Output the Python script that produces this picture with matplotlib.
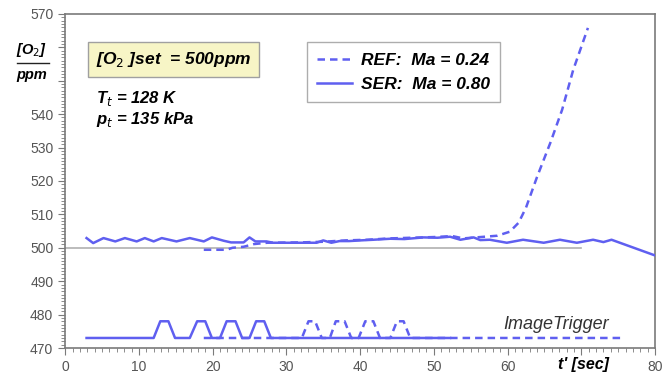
import matplotlib
matplotlib.use("Agg")
import matplotlib.pyplot as plt
from matplotlib.lines import Line2D
from matplotlib.ticker import MultipleLocator

plt.rcParams["font.family"] = ["Liberation Sans", "DejaVu Sans"]

# SER: Ma = 0.80 (solid)
ser_t = [2.9, 3.8, 5.2, 6.8, 8.1, 9.7, 10.8, 12.0, 13.1, 15.1, 16.9, 18.8, 19.9,
         21.5, 22.5, 24.2, 25.0, 25.8, 27.3, 28.2, 30, 32, 34.1, 35.0, 36.1, 37.2,
         38.5, 40, 41.8, 44.1, 46, 48.6, 50.5, 52.2, 53.6, 55.4, 56.3, 57.6, 59.9,
         62.1, 64.9, 67.1, 69.4, 71.6, 73.0, 74.1, 80]
ser_v = [502.9, 501.4, 502.9, 501.9, 502.9, 501.9, 502.9, 501.9, 502.9, 501.9,
         502.9, 501.9, 503.1, 502.1, 501.6, 501.6, 503.1, 501.9, 501.9, 501.5,
         501.5, 501.5, 501.5, 502.2, 501.5, 502.0, 502.0, 502.2, 502.4, 502.7,
         502.6, 503.1, 503.0, 503.3, 502.4, 503.1, 502.3, 502.4, 501.5, 502.4,
         501.5, 502.4, 501.5, 502.4, 501.7, 502.4, 497.7]

# REF: Ma = 0.24 (dashed)
ref_t = [18.8, 21.9, 22.7, 24.2, 25.6, 27.4, 31.9, 35, 38, 41, 44, 47, 50, 52.5,
         54, 56.3, 58.6, 60.3, 61.5, 62.5, 64.0, 65.8, 67.4, 68.9, 70.9]
ref_v = [499.4, 499.4, 500.0, 500.3, 501.1, 501.5, 501.6, 501.8, 502.2, 502.4,
         502.8, 503.0, 503.2, 503.5, 502.8, 503.2, 503.6, 504.8, 507.5, 512.0,
         521.2, 531.4, 541.3, 553.2, 565.8]

# image trigger signals
trig_ser_t = [2.9, 12.0, 12.9, 14.0, 14.9, 16.9, 17.9, 19.0, 19.9, 21.0, 21.9,
              23.1, 24.0, 25.0, 25.9, 27.0, 27.9, 52.2]
trig_ser_v = [473, 473, 478, 478, 473, 473, 478, 478, 473, 473, 478, 478, 473,
              473, 478, 478, 473, 473]
trig_ref_t = [18.8, 32.1, 33.0, 33.9, 34.8, 35.9, 36.7, 37.9, 38.8, 39.8, 40.7,
              41.8, 42.7, 44.1, 45.0, 45.9, 46.8, 75.9]
trig_ref_v = [473, 473, 478, 478, 473, 473, 478, 478, 473, 473, 478, 478, 473,
              473, 478, 478, 473, 473]

set_t = [0, 70]
set_v = [500, 500]

yticks = [470, 480, 490, 500, 510, 520, 530, 540, 550, 560, 570]
ytick_labels = ["470", "480", "490", "500", "510", "520", "530", "540", "", "", "570"]
xticks = [0, 10, 20, 30, 40, 50, 60, 70, 80]
xtick_labels = ["0", "10", "20", "30", "40", "50", "60", "", "80"]

blue = "#5f5ff0"
gray = "#7a7a7a"
lw = 1.8

fig = plt.figure(figsize=(6.65, 3.75), dpi=100)
ax = fig.add_axes([0.098, 0.072, 0.887, 0.891])

ax.plot(set_t, set_v, color="#b0b0b0", lw=1.2, zorder=1)
ax.plot(ser_t, ser_v, color=blue, lw=lw, zorder=3)
ax.plot(ref_t, ref_v, color=blue, lw=lw, dashes=(3, 2), zorder=2)
ax.plot(trig_ser_t, trig_ser_v, color=blue, lw=lw, zorder=3)
ax.plot(trig_ref_t, trig_ref_v, color=blue, lw=lw, dashes=(3, 2), zorder=2)

ax.set_xlim(0, 80)
ax.set_ylim(470, 570)
ax.set_xticks(xticks)
ax.set_xticklabels(xtick_labels)
ax.set_yticks(yticks)
ax.set_yticklabels(ytick_labels)
ax.xaxis.set_minor_locator(MultipleLocator(1))
ax.yaxis.set_minor_locator(MultipleLocator(1))
ax.tick_params(which="both", direction="out", color=gray, labelcolor="#555555",
               labelsize=10, top=False, right=False)
ax.tick_params(which="major", length=5)
ax.tick_params(which="minor", length=3)
for s in ax.spines.values():
    s.set_color(gray)
    s.set_linewidth(1.2)

# legend
handles = [Line2D([0], [0], color=blue, lw=lw, dashes=(3, 2)),
           Line2D([0], [0], color=blue, lw=lw)]
leg = ax.legend(handles, ["REF:  Ma = 0.24", "SER:  Ma = 0.80"],
                loc="upper left", bbox_to_anchor=(0.41, 0.915),
                prop={"weight": "bold", "style": "italic", "size": 12.5},
                frameon=True, fancybox=False, borderpad=0.6, handlelength=2.0,
                handletextpad=0.5, labelspacing=0.5, borderaxespad=0)
leg.get_frame().set_edgecolor("#999999")
leg.get_frame().set_linewidth(1.0)

# annotation texts
ax.text(0.052, 0.863, r"[O$_2$ ]set  = 500ppm", transform=ax.transAxes,
        fontsize=12.5, fontweight="bold", fontstyle="italic", va="center",
        bbox=dict(boxstyle="square,pad=0.45", fc="#f7f5c6", ec="#a0a0a0", lw=1))
ax.text(0.052, 0.748, r"T$_t$ = 128 K", transform=ax.transAxes, fontsize=12,
        fontweight="bold", fontstyle="italic", va="center")
ax.text(0.052, 0.683, r"p$_t$ = 135 kPa", transform=ax.transAxes, fontsize=12,
        fontweight="bold", fontstyle="italic", va="center")
ax.text(66.6, 477, "ImageTrigger", fontsize=13, fontstyle="italic",
        color="#333333", ha="center", va="center")

fig.text(583 / 665, 1 - 365 / 375, "t' [sec]", fontsize=11.5, fontweight="bold",
         fontstyle="italic", ha="center", va="center")
fig.text(32 / 665, 1 - 50 / 375, r"[O$_2$]", fontsize=10.5, fontweight="bold",
         fontstyle="italic", ha="center", va="center")
fig.add_artist(Line2D([17 / 665, 49 / 665], [1 - 63 / 375, 1 - 63 / 375],
                      color="#222222", lw=1.0))
fig.text(32 / 665, 1 - 75 / 375, "ppm", fontsize=10.5, fontweight="bold",
         fontstyle="italic", ha="center", va="center")

fig.savefig("out.png", dpi=100)
